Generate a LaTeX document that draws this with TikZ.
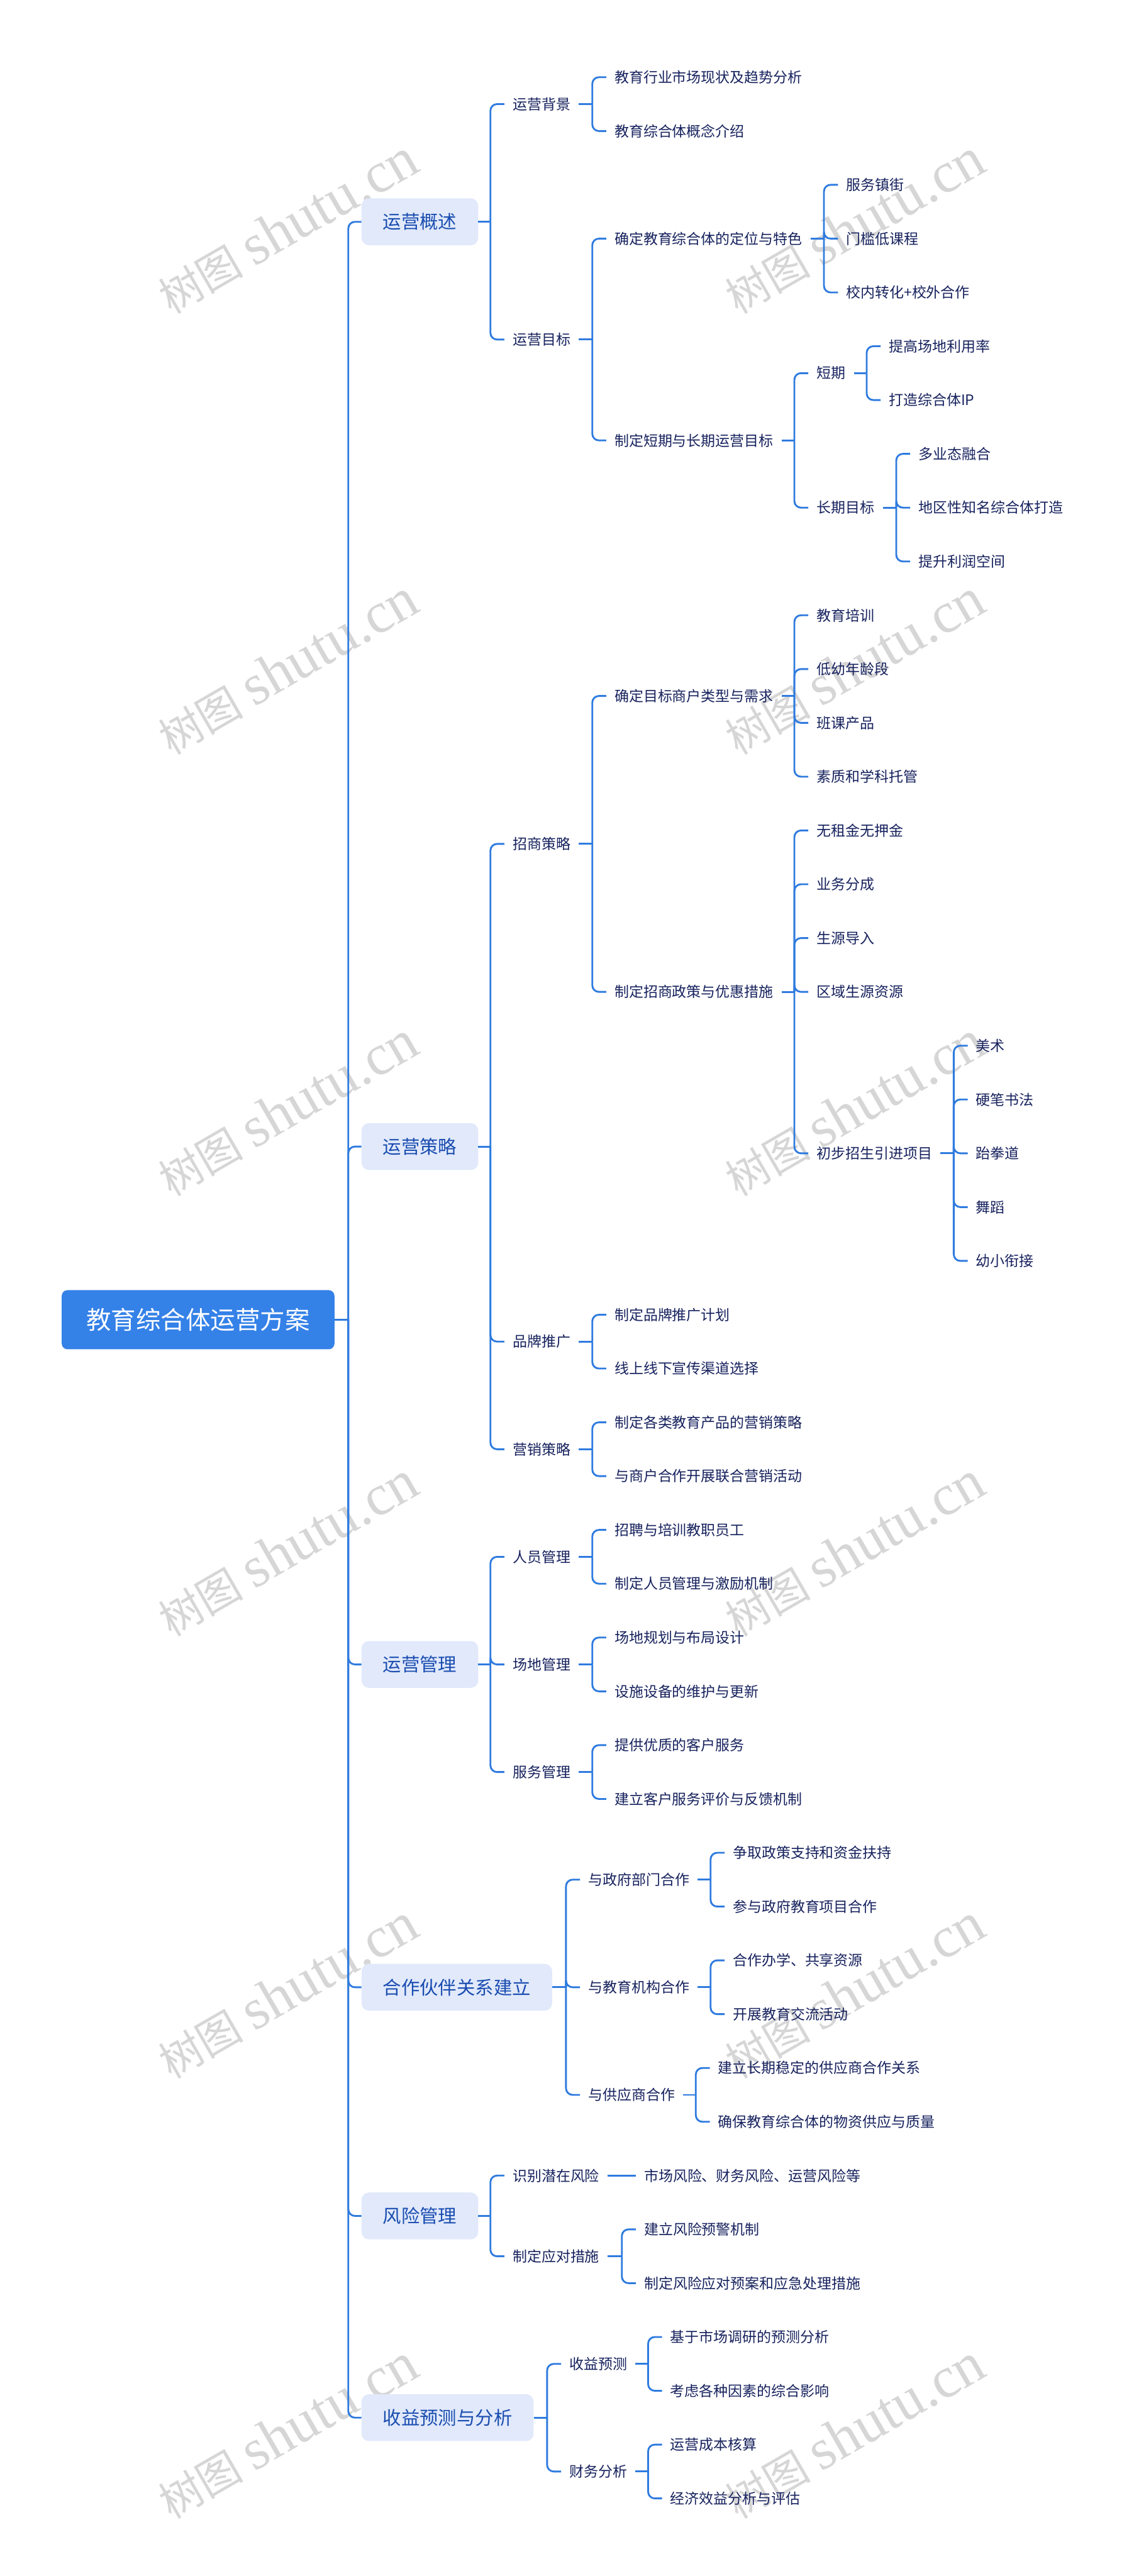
\documentclass[tikz,border=0pt]{standalone}
\usepackage{fontspec}
\newfontfamily\cjk{Noto Sans CJK SC}
\newfontfamily\wmlat{Liberation Serif}
\usetikzlibrary{calc}
\definecolor{linec}{HTML}{2F7BDF}
\definecolor{txtc}{HTML}{17225E}
\definecolor{lonetxt}{HTML}{1A4DB0}
\definecolor{lonefill}{HTML}{E1E9FB}
\definecolor{rootfill}{HTML}{3481E8}
\definecolor{wmc}{HTML}{D6D6D6}
\newcommand\lf[4]{\node[leaf] (#1) at ({#2-5},#3) {#4};}
\newcommand\branch[3]{%
  \coordinate (tx) at (#2,0);
  \draw[conn] (#1.east) -- (#1.east -| tx) coordinate (#1-j);
  \foreach \c in {#3} {\draw[conn,rounded corners=0.4cm] (#1-j) |- (\c.west);}
}
\newcommand\wmtext{{\cjk\fontsize{74pt}{80pt}\selectfont 树图}\hspace{18pt}{\wmlat\fontsize{100pt}{105pt}\selectfont shutu.cn}}
\begin{document}
\begin{tikzpicture}[x=0.1cm,y=-0.1cm,
 conn/.style={draw=linec,line width=0.11cm},
 leaf/.style={font=\cjk\fontsize{25pt}{30pt}\selectfont,text=txtc,inner xsep=0.5cm,inner ysep=0.1cm,anchor=west},
 lone/.style={font=\cjk\fontsize{32pt}{38pt}\selectfont,text=lonetxt,fill=lonefill,rounded corners=0.45cm,inner xsep=1.3cm,minimum height=2.85cm,anchor=west},
 rootn/.style={font=\cjk\fontsize{43pt}{50pt}\selectfont,text=white,fill=rootfill,rounded corners=0.35cm,inner xsep=1.5cm,minimum height=3.6cm,anchor=west},
 wm/.style={text=wmc,rotate=30,inner sep=0pt}]
\useasboundingbox[fill=white] (0,0) rectangle (690,1568);
% watermarks
\foreach \wy [count=\i] in {138,406,675,943,1212,1480} {
  \node[wm] (wml\i) at (175,\wy) {\wmtext};
  \node[wm] (wmr\i) at (520,\wy) {\wmtext};
}
% root and level 1
\node[rootn] (root) at (37.5,803.3) {教育综合体运营方案};
\node[lone] (A) at (220,135.02) {运营概述};
\node[lone] (B) at (220,697.9) {运营策略};
\node[lone] (C) at (220,1013.125) {运营管理};
\node[lone] (D) at (220,1209.625) {合作伙伴关系建立};
\node[lone] (E) at (220,1348.8) {风险管理};
\node[lone] (F) at (220,1471.6) {收益预测与分析};
% A
\lf{a1}{312}{63.375}{运营背景}
\lf{a2}{312}{206.66}{运营目标}
\lf{a11}{374}{47}{教育行业市场现状及趋势分析}
\lf{a12}{374}{79.75}{教育综合体概念介绍}
\lf{a21}{374}{145.25}{确定教育综合体的定位与特色}
\lf{a22}{374}{268.06}{制定短期与长期运营目标}
\lf{a211}{515}{112.5}{服务镇街}
\lf{a212}{515}{145.25}{门槛低课程}
\lf{a213}{515}{178}{校内转化+校外合作}
\lf{a221}{497}{227.125}{短期}
\lf{a222}{497}{309}{长期目标}
\lf{a2211}{541}{210.75}{提高场地利用率}
\lf{a2212}{541}{243.5}{打造综合体IP}
\lf{a2221}{559}{276.25}{多业态融合}
\lf{a2222}{559}{309}{地区性知名综合体打造}
\lf{a2223}{559}{341.75}{提升利润空间}
% B
\lf{b1}{312}{513.69}{招商策略}
\lf{b2}{312}{816.625}{品牌推广}
\lf{b3}{312}{882.125}{营销策略}
\lf{b11}{374}{423.625}{确定目标商户类型与需求}
\lf{b12}{374}{603.75}{制定招商政策与优惠措施}
\lf{b111}{497}{374.5}{教育培训}
\lf{b112}{497}{407.25}{低幼年龄段}
\lf{b113}{497}{440}{班课产品}
\lf{b114}{497}{472.75}{素质和学科托管}
\lf{b121}{497}{505.5}{无租金无押金}
\lf{b122}{497}{538.25}{业务分成}
\lf{b123}{497}{571}{生源导入}
\lf{b124}{497}{603.75}{区域生源资源}
\lf{b125}{497}{702}{初步招生引进项目}
\lf{b1251}{594}{636.5}{美术}
\lf{b1252}{594}{669.25}{硬笔书法}
\lf{b1253}{594}{702}{跆拳道}
\lf{b1254}{594}{734.75}{舞蹈}
\lf{b1255}{594}{767.5}{幼小衔接}
\lf{b21}{374}{800.25}{制定品牌推广计划}
\lf{b22}{374}{833}{线上线下宣传渠道选择}
\lf{b31}{374}{865.75}{制定各类教育产品的营销策略}
\lf{b32}{374}{898.5}{与商户合作开展联合营销活动}
% C
\lf{c1}{312}{947.625}{人员管理}
\lf{c2}{312}{1013.125}{场地管理}
\lf{c3}{312}{1078.625}{服务管理}
\lf{c11}{374}{931.25}{招聘与培训教职员工}
\lf{c12}{374}{964}{制定人员管理与激励机制}
\lf{c21}{374}{996.75}{场地规划与布局设计}
\lf{c22}{374}{1029.5}{设施设备的维护与更新}
\lf{c31}{374}{1062.25}{提供优质的客户服务}
\lf{c32}{374}{1095}{建立客户服务评价与反馈机制}
% D
\lf{d1}{358}{1144.125}{与政府部门合作}
\lf{d2}{358}{1209.625}{与教育机构合作}
\lf{d3}{358}{1275.125}{与供应商合作}
\lf{d11}{446}{1127.75}{争取政策支持和资金扶持}
\lf{d12}{446}{1160.5}{参与政府教育项目合作}
\lf{d21}{446}{1193.25}{合作办学、共享资源}
\lf{d22}{446}{1226}{开展教育交流活动}
\lf{d31}{437}{1258.75}{建立长期稳定的供应商合作关系}
\lf{d32}{437}{1291.5}{确保教育综合体的物资供应与质量}
% E
\lf{e1}{312}{1324.25}{识别潜在风险}
\lf{e2}{312}{1373.375}{制定应对措施}
\lf{e11}{392}{1324.25}{市场风险、财务风险、运营风险等}
\lf{e21}{392}{1357}{建立风险预警机制}
\lf{e22}{392}{1389.75}{制定风险应对预案和应急处理措施}
% F
\lf{f1}{346.5}{1438.875}{收益预测}
\lf{f2}{346.5}{1504.375}{财务分析}
\lf{f11}{408}{1422.5}{基于市场调研的预测分析}
\lf{f12}{408}{1455.25}{考虑各种因素的综合影响}
\lf{f21}{408}{1488}{运营成本核算}
\lf{f22}{408}{1520.75}{经济效益分析与评估}
% connectors
\branch{root}{212}{A,B,C,D,E,F}
\branch{A}{298.5}{a1,a2}
\branch{a1}{360.5}{a11,a12}
\branch{a2}{360.5}{a21,a22}
\branch{a21}{501.5}{a211,a212,a213}
\branch{a22}{483.5}{a221,a222}
\branch{a221}{527.5}{a2211,a2212}
\branch{a222}{545.5}{a2221,a2222,a2223}
\branch{B}{298.5}{b1,b2,b3}
\branch{b1}{360.5}{b11,b12}
\branch{b11}{483.5}{b111,b112,b113,b114}
\branch{b12}{483.5}{b121,b122,b123,b124,b125}
\branch{b125}{580.5}{b1251,b1252,b1253,b1254,b1255}
\branch{b2}{360.5}{b21,b22}
\branch{b3}{360.5}{b31,b32}
\branch{C}{298.5}{c1,c2,c3}
\branch{c1}{360.5}{c11,c12}
\branch{c2}{360.5}{c21,c22}
\branch{c3}{360.5}{c31,c32}
\branch{D}{344.5}{d1,d2,d3}
\branch{d1}{432.5}{d11,d12}
\branch{d2}{432.5}{d21,d22}
\branch{d3}{423.5}{d31,d32}
\branch{E}{298.5}{e1,e2}
\draw[conn] (e1.east) -- (e11.west);
\branch{e2}{378.5}{e21,e22}
\branch{F}{333}{f1,f2}
\branch{f1}{394.5}{f11,f12}
\branch{f2}{394.5}{f21,f22}
\end{tikzpicture}
\end{document}
